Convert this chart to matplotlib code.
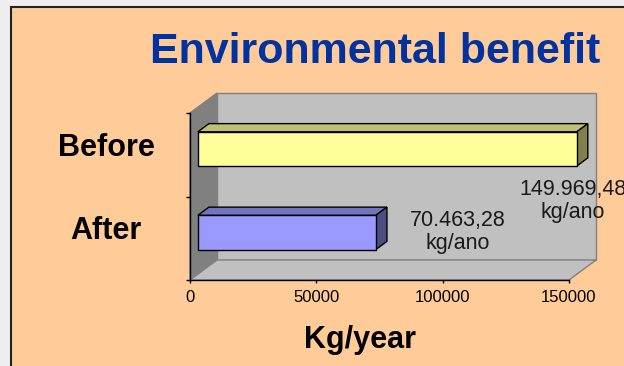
import matplotlib
matplotlib.use("Agg")
import matplotlib.pyplot as plt
from matplotlib.patches import Polygon, Rectangle
import numpy as np

plt.rcParams['font.family'] = ['Liberation Sans', 'DejaVu Sans']

# data
categories = ['After', 'Before']
values = [70463.28, 149969.48]
value_labels = ['70.463,28\nkg/ano', '149.969,48\nkg/ano']
xticks = [0, 50000, 100000, 150000]

front_colors = ['#9999FF', '#FFFF99']
top_colors = ['#7373C0', '#C0C073']
side_colors = ['#4D4D80', '#80804D']

W, H = 624, 366
fig = plt.figure(figsize=(W / 100, H / 100), dpi=100)
fig.patch.set_facecolor('#EEEEEE')

# peach slide panel
fig.patches.append(Rectangle((11 / W, -0.05), 1.1, 1 - 7 / H + 0.05, transform=fig.transFigure,
                             facecolor='#FFCC99', edgecolor='#222222', linewidth=1.5, zorder=-5))

ax = fig.add_axes([190 / W, 86 / H, 379 / W, 167 / H])
ax.set_zorder(2)
ax.set_xlim(0, 150000)
ax.set_ylim(-0.5, 1.5)
ax.patch.set_visible(False)


def shift(x, y, dx, dy):
    p = ax.transData.transform((x, y)) + np.array([dx, dy])
    return ax.transData.inverted().transform(p)


depth = np.array([27.0, 20.0])
xmax = 150000
ymin, ymax = -0.5, 1.5

# back wall, side wall, floor
wall = [shift(0, ymin, *depth), shift(xmax, ymin, *depth), shift(xmax, ymax, *depth), shift(0, ymax, *depth)]
ax.add_patch(Polygon(wall, closed=True, facecolor='#C0C0C0', edgecolor='#808080', lw=1, clip_on=False, zorder=0))
side = [shift(0, ymin, 0, 0), shift(0, ymin, *depth), shift(0, ymax, *depth), shift(0, ymax, 0, 0)]
ax.add_patch(Polygon(side, closed=True, facecolor='#808080', edgecolor='#808080', lw=1, clip_on=False, zorder=0))
floor = [shift(0, ymin, 0, 0), shift(xmax, ymin, 0, 0), shift(xmax, ymin, *depth), shift(0, ymin, *depth)]
ax.add_patch(Polygon(floor, closed=True, facecolor='#C0C0C0', edgecolor='#808080', lw=1, clip_on=False, zorder=0))

# 3d bars
F = depth * 0.29
B = depth * 0.70
h = 0.41
for i, v in enumerate(values):
    y0, y1 = i - h / 2, i + h / 2
    front = [shift(0, y0, *F), shift(v, y0, *F), shift(v, y1, *F), shift(0, y1, *F)]
    top = [shift(0, y1, *F), shift(v, y1, *F), shift(v, y1, *B), shift(0, y1, *B)]
    sd = [shift(v, y0, *F), shift(v, y0, *B), shift(v, y1, *B), shift(v, y1, *F)]
    ax.add_patch(Polygon(top, closed=True, facecolor=top_colors[i], edgecolor='black', lw=1, clip_on=False, zorder=2))
    ax.add_patch(Polygon(sd, closed=True, facecolor=side_colors[i], edgecolor='black', lw=1, clip_on=False, zorder=2))
    ax.add_patch(Polygon(front, closed=True, facecolor=front_colors[i], edgecolor='black', lw=1, clip_on=False, zorder=3))

# value labels
label_offsets = [(90, 6), (4, -46)]
for i, v in enumerate(values):
    ax.annotate(value_labels[i], xy=(v, i), xycoords='data', xytext=label_offsets[i],
                textcoords='offset pixels', ha='center', va='center', fontsize=15.5,
                color='#1a1a1a', linespacing=1.15, annotation_clip=False, zorder=4)

# category labels
for i, c in enumerate(categories):
    ax.annotate(c, xy=(0, i), xycoords='data', xytext=(-84, 7), textcoords='offset pixels',
                ha='center', va='center', fontsize=22, fontweight='bold', color='black',
                annotation_clip=False)

for s in ['top', 'right']:
    ax.spines[s].set_visible(False)
for s in ['left', 'bottom']:
    ax.spines[s].set_color('black')
    ax.spines[s].set_linewidth(1)
    ax.spines[s].set_zorder(1)

ax.set_xticks(xticks)
ax.set_xticklabels([str(t) for t in xticks])
ax.tick_params(axis='x', direction='out', length=2.5, width=1, labelsize=12, pad=5, colors='black')
ax.set_yticks([-0.5, 0.5, 1.5])
ax.set_yticklabels([])
ax.tick_params(axis='y', direction='out', length=3, width=1)

fig.text(375 / W, 1 - 52 / H, 'Environmental benefit', ha='center', va='center',
         fontsize=31, fontweight='bold', color='#0033A0')
fig.text(360 / W, 1 - 340 / H, 'Kg/year', ha='center', va='center',
         fontsize=22, fontweight='bold', color='black')

fig.savefig('out.png', dpi=100, facecolor=fig.get_facecolor())
